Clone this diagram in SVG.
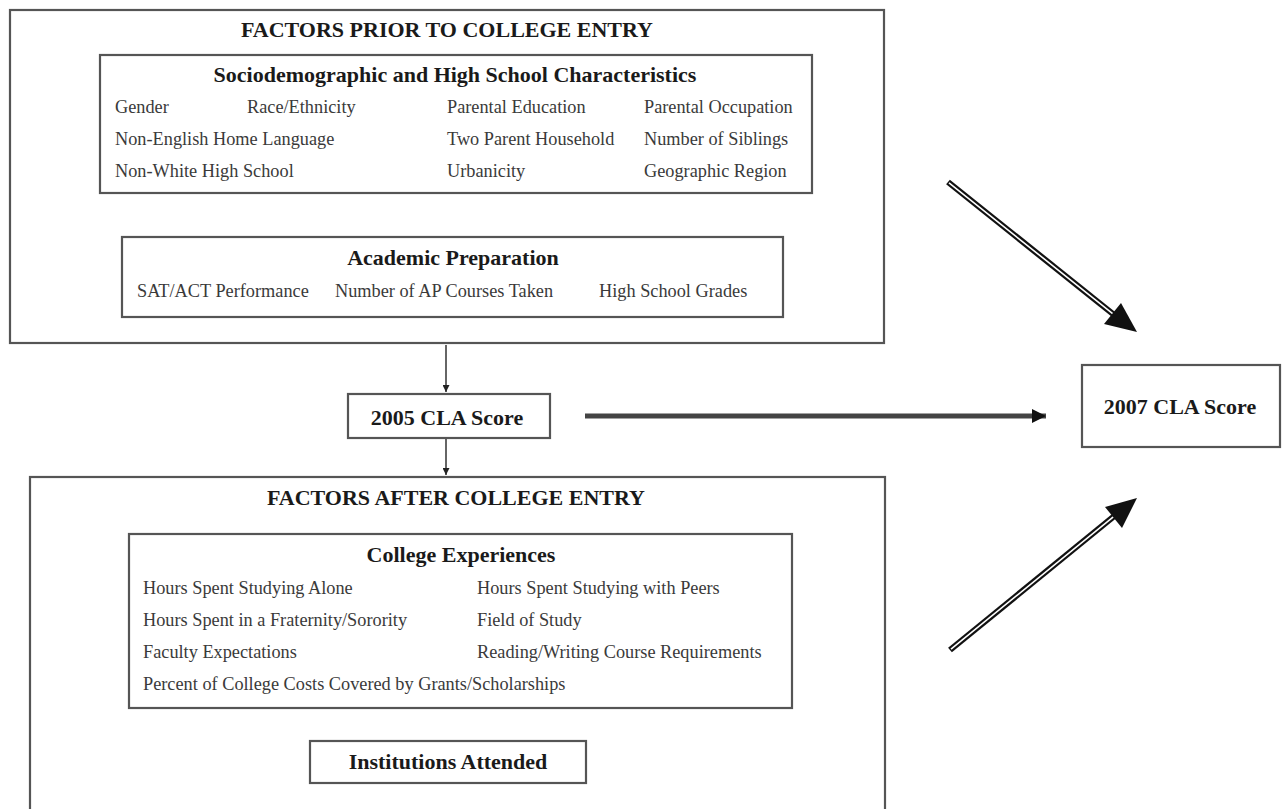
<svg xmlns="http://www.w3.org/2000/svg" width="1282" height="809" viewBox="0 0 1282 809">
<defs>
<style>
.box{fill:none;stroke:#555;stroke-width:2.2}
.h{font-family:"Liberation Serif","Times New Roman",serif;font-weight:bold;font-size:22px;fill:#1a1a1a;text-anchor:middle}
.t{font-family:"Liberation Serif","Times New Roman",serif;font-size:18.3px;fill:#3a3a3a}
.thin{stroke:#333;stroke-width:1.5;fill:none}
.dblo{stroke:#111;stroke-width:6;fill:none}
.dbli{stroke:#fff;stroke-width:1.6;fill:none}
</style>
<marker id="sm" viewBox="0 0 10 10" refX="10" refY="5" markerWidth="7" markerHeight="7" markerUnits="userSpaceOnUse" orient="auto"><path d="M0,0 L10,5 L0,10 z" fill="#222"/></marker>
<marker id="hm" viewBox="0 0 10 10" refX="10" refY="5" markerWidth="14" markerHeight="14" markerUnits="userSpaceOnUse" orient="auto"><path d="M0,0 L10,5 L0,10 z" fill="#111"/></marker>
</defs>
<rect width="1282" height="809" fill="#fff"/>

<g id="prior">
<rect class="box" x="10" y="10" width="874" height="333"/>
<text class="h" x="447" y="37">FACTORS PRIOR TO COLLEGE ENTRY</text>
</g>
<g id="socio">
<rect class="box" x="100" y="55" width="712" height="138"/>
<text class="h" x="455" y="82">Sociodemographic and High School Characteristics</text>
<text class="t" x="115" y="113">Gender</text>
<text class="t" x="247" y="113">Race/Ethnicity</text>
<text class="t" x="447" y="113">Parental Education</text>
<text class="t" x="644" y="113">Parental Occupation</text>
<text class="t" x="115" y="145">Non-English Home Language</text>
<text class="t" x="447" y="145">Two Parent Household</text>
<text class="t" x="644" y="145">Number of Siblings</text>
<text class="t" x="115" y="177">Non-White High School</text>
<text class="t" x="447" y="177">Urbanicity</text>
<text class="t" x="644" y="177">Geographic Region</text>
</g>
<g id="academic">
<rect class="box" x="122" y="237" width="661" height="80"/>
<text class="h" x="453" y="265">Academic Preparation</text>
<text class="t" x="137" y="297">SAT/ACT Performance</text>
<text class="t" x="335" y="297">Number of AP Courses Taken</text>
<text class="t" x="599" y="297">High School Grades</text>
</g>
<g id="cla2005">
<rect class="box" x="348" y="394" width="202" height="44"/>
<text class="h" x="447" y="425">2005 CLA Score</text>
</g>
<g id="cla2007">
<rect class="box" x="1082" y="365" width="198" height="82"/>
<text class="h" x="1180" y="414">2007 CLA Score</text>
</g>
<g id="after">
<rect class="box" x="30" y="477" width="855" height="340"/>
<text class="h" x="456" y="505">FACTORS AFTER COLLEGE ENTRY</text>
</g>
<g id="college">
<rect class="box" x="129" y="534" width="663" height="174"/>
<text class="h" x="461" y="562">College Experiences</text>
<text class="t" x="143" y="594">Hours Spent Studying Alone</text>
<text class="t" x="477" y="594">Hours Spent Studying with Peers</text>
<text class="t" x="143" y="626">Hours Spent in a Fraternity/Sorority</text>
<text class="t" x="477" y="626">Field of Study</text>
<text class="t" x="143" y="658">Faculty Expectations</text>
<text class="t" x="477" y="658">Reading/Writing Course Requirements</text>
<text class="t" x="143" y="690">Percent of College Costs Covered by Grants/Scholarships</text>
</g>
<g id="institutions">
<rect class="box" x="310" y="741" width="276" height="42"/>
<text class="h" x="448" y="769">Institutions Attended</text>
</g>

<g id="connectors">
<line class="thin" x1="446" y1="345" x2="446" y2="392" marker-end="url(#sm)"/>
<line class="thin" x1="446" y1="439" x2="446" y2="475" marker-end="url(#sm)"/>
<line x1="585" y1="416" x2="1046" y2="416" stroke="#444" stroke-width="5" marker-end="url(#hm)"/>
<g>
<line class="dblo" x1="948" y1="182" x2="1118" y2="318"/>
<line class="dbli" x1="949" y1="182.8" x2="1117" y2="317.2"/>
<path d="M1137,332 L1104,324 L1121,303 z" fill="#111"/>
</g>
<g>
<line class="dblo" x1="950" y1="650" x2="1118" y2="513"/>
<line class="dbli" x1="951" y1="649.2" x2="1117" y2="513.8"/>
<path d="M1137,498 L1122,528 L1105,507 z" fill="#111"/>
</g>
</g>
</svg>
